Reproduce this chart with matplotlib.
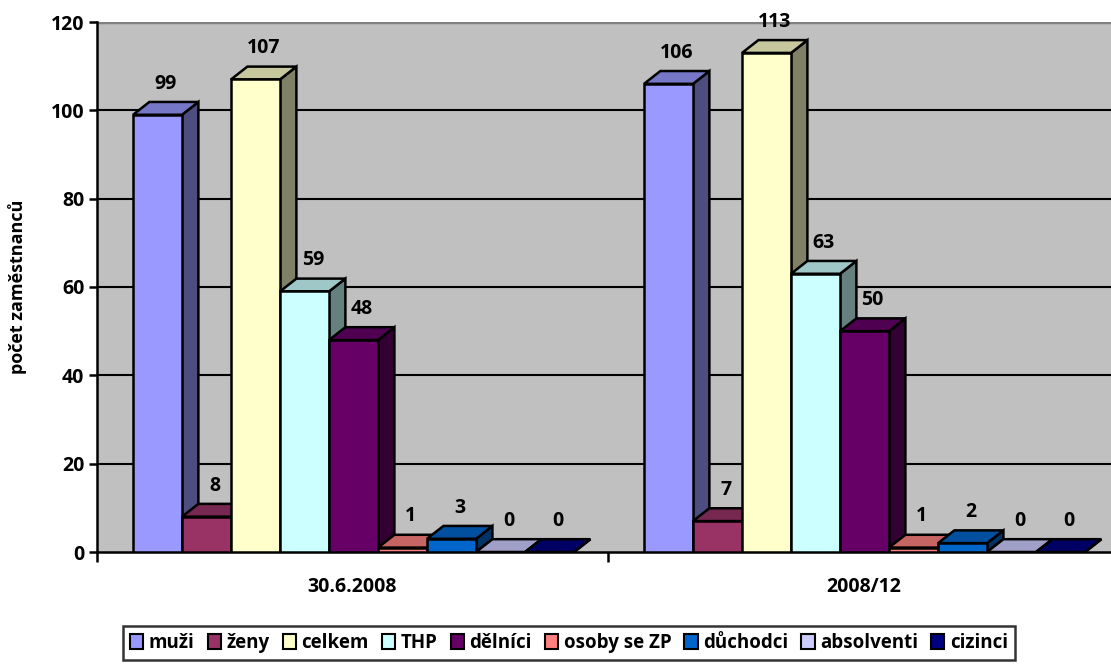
import matplotlib.pyplot as plt
from matplotlib.patches import Polygon, Patch
import matplotlib.colors as mcolors

plt.rcParams['font.family'] = ['Open Sans', 'DejaVu Sans']
plt.rcParams['font.weight'] = 'bold'

categories = ['30.6.2008', '2008/12']
series = ['muži', 'ženy', 'celkem', 'THP', 'dělníci', 'osoby se ZP',
          'důchodci', 'absolventi', 'cizinci']
values_2008_06 = [99, 8, 107, 59, 48, 1, 3, 0, 0]
values_2008_12 = [106, 7, 113, 63, 50, 1, 2, 0, 0]
colors = ['#9999FF', '#993366', '#FFFFCC', '#CCFFFF', '#660066',
          '#FF8080', '#0066CC', '#CCCCFF', '#000080']

fig = plt.figure(figsize=(11.11, 6.64), dpi=100)
ax = fig.add_axes([97 / 1111, 112 / 664, 1022 / 1111, 530 / 664])
ax.set_facecolor('#C0C0C0')
ax.set_xlim(0, 2)
ax.set_ylim(0, 120)

# 3D look: depth offsets in data units
dx = 0.032
dy = 2.9
w = 0.0959
start = 0.0705


def shade(c, f):
    r, g, b = mcolors.to_rgb(c)
    return (r * f, g * f, b * f)


for gi, vals in enumerate([values_2008_06, values_2008_12]):
    for i, v in enumerate(vals):
        x = gi + start + i * w
        col = colors[i]
        front = Polygon([(x, 0), (x + w, 0), (x + w, v), (x, v)],
                        facecolor=col, edgecolor='black', lw=1.8, zorder=3)
        side = Polygon([(x + w, 0), (x + w + dx, dy), (x + w + dx, v + dy), (x + w, v)],
                       facecolor=shade(col, 0.5), edgecolor='black', lw=1.8, zorder=3)
        top = Polygon([(x, v), (x + dx, v + dy), (x + w + dx, v + dy), (x + w, v)],
                      facecolor=shade(col, 0.78), edgecolor='black', lw=1.8, zorder=3)
        ax.add_patch(side)
        ax.add_patch(top)
        ax.add_patch(front)
        ax.annotate(str(v), (x + w / 2 + dx / 2, v + dy), xytext=(0, 6),
                    textcoords='offset points', ha='center', va='bottom',
                    fontsize=14, fontweight='bold', zorder=4,
                    annotation_clip=False)

# gridlines
for yv in [20, 40, 60, 80, 100]:
    ax.axhline(yv, color='black', lw=1.5, zorder=1)
ax.axhline(120, color='#808080', lw=2.5, zorder=1)

for s in ['top', 'right']:
    ax.spines[s].set_visible(False)
ax.spines['left'].set_linewidth(1.8)
ax.spines['bottom'].set_linewidth(1.8)

ax.set_yticks([0, 20, 40, 60, 80, 100, 120])
ax.set_yticklabels(['0', '20', '40', '60', '80', '100', '120'], fontsize=14, fontweight='bold')
ax.tick_params(axis='y', length=6, width=1.8, direction='out', pad=3)
ax.set_xticks([0.5, 1.5])
ax.set_xticklabels(categories, fontsize=14, fontweight='bold')
ax.tick_params(axis='x', length=0, pad=18)
ax.set_xticks([0, 1, 2], minor=True)
ax.tick_params(axis='x', which='minor', length=7, width=1.8)

fig.text(18 / 1111, 0.568, 'počet zaměstnanců', rotation=90, ha='center',
         va='center', fontsize=13, fontweight='bold')

handles = [Patch(facecolor=c, edgecolor='black', lw=1.5) for c in colors]
leg = fig.legend(handles, series, loc='center', bbox_to_anchor=(569 / 1111, 1 - 643 / 664),
                 ncol=9, frameon=True, fancybox=False, handlelength=0.7,
                 handleheight=0.8, handletextpad=0.3, columnspacing=0.7,
                 borderpad=0.35, prop={'size': 13.5, 'weight': 'bold'})
leg.get_frame().set_edgecolor('black')
leg.get_frame().set_linewidth(1.8)

fig.savefig('out.png', dpi=100)
